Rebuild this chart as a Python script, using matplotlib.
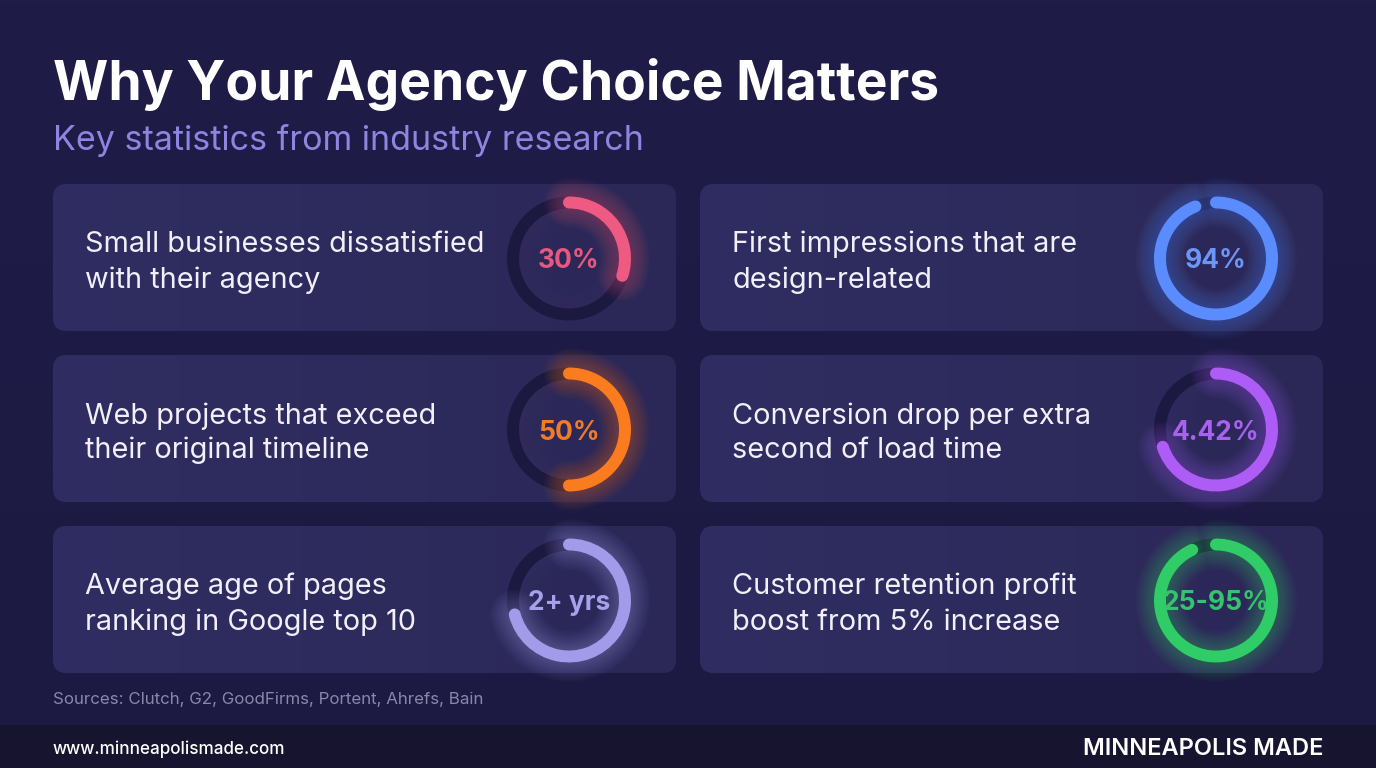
import numpy as np
import matplotlib
matplotlib.use("Agg")
import matplotlib.pyplot as plt
from matplotlib.patches import FancyBboxPatch, Arc, Rectangle, Circle
from matplotlib.colors import LinearSegmentedColormap

# ---------------- data ----------------
title = "Why Your Agency Choice Matters"
subtitle = "Key statistics from industry research"
labels = [
    "Small businesses dissatisfied\nwith their agency",
    "First impressions that are\ndesign-related",
    "Web projects that exceed\ntheir original timeline",
    "Conversion drop per extra\nsecond of load time",
    "Average age of pages\nranking in Google top 10",
    "Customer retention profit\nboost from 5% increase",
]
value_labels = ["30%", "94%", "50%", "4.42%", "2+ yrs", "25-95%"]
ring_fractions = [0.30, 0.94, 0.50, 0.70, 0.71, 0.93]
ring_colors = ["#ee5a82", "#5b8cff", "#fb7c1e", "#ad5cf6", "#a29be9", "#2fcc68"]
value_colors = ["#e8577e", "#6b95f7", "#f27b25", "#a961f0", "#a7a0ea", "#35c46c"]
sources = "Sources: Clutch, G2, GoodFirms, Portent, Ahrefs, Bain"
footer_url = "www.minneapolismade.com"
footer_brand = "MINNEAPOLIS MADE"

# ---------------- layout ----------------
W, H = 1376, 768
PT = 0.72  # px -> pt at dpi 100
FONT = ["Inter", "DejaVu Sans"]
BG = "#1e1b45"
CARD = "#2d2a5c"
TRACK = "#1c1940"

def Y(v):
    return H - v

fig = plt.figure(figsize=(W / 100, H / 100), dpi=100, facecolor=BG)
ax = fig.add_axes([0, 0, 1, 1])
ax.set_xlim(0, W)
ax.set_ylim(0, H)
ax.axis("off")
ax.set_facecolor(BG)

# background subtle gradient
grad = np.linspace(0, 1, 256).reshape(-1, 1)
bgcmap = LinearSegmentedColormap.from_list("bg", ["#1f1c48", "#1c1a42"])
ax.imshow(grad, extent=[0, W, 0, H], cmap=bgcmap, aspect="auto", zorder=0)

# footer bar
ax.add_patch(Rectangle((0, 0), W, H - 725, color="#16142f", zorder=1, lw=0))

# title
ax.text(53, Y(100), title, fontsize=38.4, fontweight="bold", color="white",
        family=FONT, va="baseline", ha="left", zorder=5)
ax.text(53, Y(150), subtitle, fontsize=24.5, color="#8e85e0",
        family=FONT, va="baseline", ha="left", zorder=5)

card_x = [53, 700]
card_top = [184, 355, 526]
card_w, card_h = 623, 147
ring_dx = 516
ring_r = 56
ring_lw = 12

cardcmap = LinearSegmentedColormap.from_list("card", ["#302d62", "#2b2858"])
cgrad = np.linspace(0, 1, 256).reshape(1, -1)

for i, (lab, val, frac, col, vcol) in enumerate(
        zip(labels, value_labels, ring_fractions, ring_colors, value_colors)):
    row, colm = divmod(i, 2)
    x0 = card_x[colm]
    top = card_top[row]
    patch = FancyBboxPatch((x0, Y(top + card_h)), card_w, card_h,
                           boxstyle="round,pad=0,rounding_size=14",
                           facecolor=CARD, edgecolor="none", zorder=2)
    ax.add_patch(patch)
    im = ax.imshow(cgrad, extent=[x0, x0 + card_w, Y(top + card_h), Y(top)],
                   cmap=cardcmap, aspect="auto", zorder=2.1)
    im.set_clip_path(patch)

    cy_top = top + card_h / 2 + 1
    # label lines
    for k, line in enumerate(lab.split("\n")):
        ax.text(x0 + 32, Y(cy_top - 6 + 35 * k), line, fontsize=20.8,
                color="#f1eff9", family=FONT, va="baseline", ha="left", zorder=5)

    cx, cy = x0 + ring_dx, Y(cy_top)
    # soft inner haze
    for g in range(6):
        ax.add_patch(Circle((cx, cy), ring_r - 6 - 3 * g, fill=False,
                            edgecolor=col, lw=4 * PT, alpha=0.018 * (6 - g) / 6,
                            zorder=2.5))
    # track
    ax.add_patch(Circle((cx, cy), ring_r, fill=False, edgecolor=TRACK,
                        lw=ring_lw * PT, zorder=3))
    t1, t2 = 90 - 360 * frac, 90
    # glow
    for g in range(1, 17):
        ax.add_patch(Arc((cx, cy), 2 * ring_r, 2 * ring_r, theta1=t1, theta2=t2,
                         lw=(ring_lw + 2.4 * g) * PT, color=col, alpha=0.022,
                         capstyle="round", zorder=3.2))
    ax.add_patch(Arc((cx, cy), 2 * ring_r, 2 * ring_r, theta1=t1, theta2=t2,
                     lw=ring_lw * PT, color=col, capstyle="round", zorder=3.5))
    ax.text(cx, cy - 10, val, fontsize=19, fontweight="bold", color=vcol,
            family=FONT, va="baseline", ha="center", zorder=6)

# sources & footer
ax.text(53, Y(704), sources, fontsize=12.2, color="#8a87a8", family=FONT,
        va="baseline", ha="left", zorder=5)
ax.text(53, Y(754), footer_url, fontsize=12.3, color="white", family=FONT,
        fontweight="medium", va="baseline", ha="left", zorder=5)
ax.text(1323, Y(755), footer_brand, fontsize=17, color="white", family=FONT,
        fontweight="semibold", va="baseline", ha="right", zorder=5)

fig.savefig("out.png", dpi=100, facecolor=BG)
